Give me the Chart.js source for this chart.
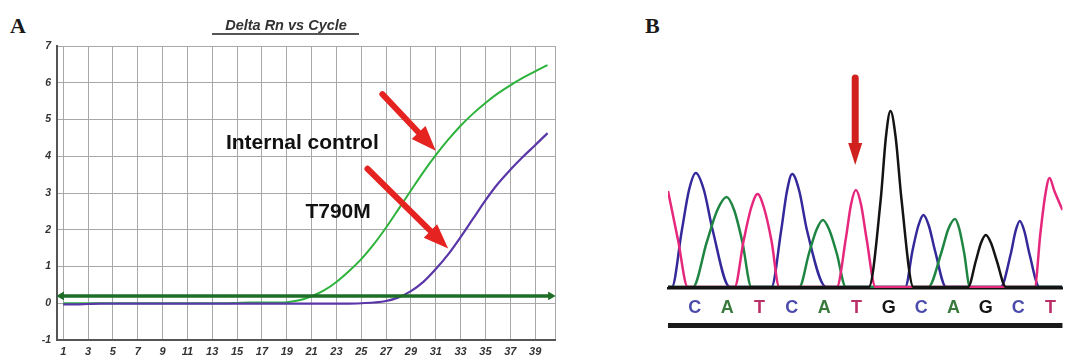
<!DOCTYPE html>
<html><head><meta charset="utf-8">
<script src="https://cdn.jsdelivr.net/npm/chart.js@4.4.0/dist/chart.umd.min.js"></script>
<style>
html,body{margin:0;padding:0;background:#fff;width:1065px;height:358px;overflow:hidden;}
.panel{position:absolute;top:0;}
.lbl{position:absolute;font-family:'Liberation Serif','Times New Roman',serif;font-weight:bold;font-size:22px;line-height:22px;color:#1a1a1a;}
</style></head><body>
<div class="lbl" style="left:10px;top:15px">A</div>
<div class="lbl" style="left:645px;top:15px">B</div>
<div class="panel" style="left:0;width:570px;height:358px"><canvas id="cA" width="570" height="358"></canvas></div>
<div class="panel" style="left:640px;width:425px;height:358px"><canvas id="cB" width="425" height="358"></canvas></div>
<script>
// ---------- Panel A data ----------
const cycles = [1,2,3,4,5,6,7,8,9,10,11,12,13,14,15,16,17,18,19,20,21,22,23,24,25,26,27,28,29,30,31,32,33,34,35,36,37,38,39,40];
const internalControl = [0,0,0,0,0,0,0,0,0,0,0,0,0,0,0.01,0.02,0.02,0.02,0.03,0.08,0.19,0.35,0.58,0.87,1.2,1.6,2.06,2.56,3.07,3.57,4.03,4.45,4.83,5.16,5.45,5.71,5.93,6.13,6.31,6.48];
const t790m = [-0.03,-0.03,-0.02,-0.01,-0.01,-0.01,-0.01,-0.01,-0.01,-0.01,-0.01,-0.01,-0.01,-0.01,-0.01,-0.01,-0.01,-0.01,-0.01,-0.01,-0.01,-0.01,-0.01,-0.01,0,0.02,0.06,0.16,0.33,0.58,0.93,1.33,1.8,2.3,2.8,3.25,3.63,3.98,4.3,4.63];
const threshold = 0.2;
const xTickCycles = [1,3,5,7,9,11,13,15,17,19,21,23,25,27,29,31,33,35,37,39];
const yTickValues = [-1,0,1,2,3,4,5,6,7];
const textLabelsA = [{text:'Internal control', x:14.1, y:4.36},{text:'T790M', x:20.5, y:2.47}];
const arrowsA = [{from:[26.7,5.69], to:[31.0,4.15]},{from:[25.5,3.66], to:[32.0,1.49]}];

// ---------- Panel B data ----------
const bases = ['C','A','T','C','A','T','G','C','A','G','C','T'];
const basePositions = [10,20,30,40,50,60,70,80,90,100,110,120];
const mutationPosition = 60;
const traceC = [[1.7,0],[2.9,0],[6.0,570],[8.2,970],[10.3,1140],[12.8,970],[15.5,570],[20.8,0],[33.7,0],[36.7,565],[38.5,960],[40.1,1130],[42.3,960],[44.7,565],[50.6,0],[75.1,0],[77.3,360],[79.1,610],[80.7,720],[82.4,610],[84.3,360],[87.7,0],[104.6,0],[107.7,330],[109.2,560],[110.5,660],[111.9,560],[113.5,330],[116.6,0],[123.7,0]];
const traceA = [[1.7,0],[9.4,0],[13.7,450],[16.9,765],[19.8,900],[22.2,765],[24.7,450],[27.5,0],[42.3,0],[45.3,335],[47.6,570],[49.6,670],[51.6,570],[53.9,335],[56.7,0],[82.2,0],[86.2,340],[88.4,580],[90.5,680],[91.8,580],[93.3,340],[95.1,0],[123.7,0]];
const traceT = [[1.7,960],[4.8,470],[7.8,0],[22.3,0],[25.1,465],[27.4,790],[29.4,930],[31.4,790],[33.7,465],[36.1,0],[53.9,0],[56.7,485],[58.3,825],[59.8,970],[61.4,825],[63.1,485],[65.9,0],[115.1,0],[116.9,545],[118.4,925],[119.7,1090],[121.2,960],[123.7,770]];
const traceG = [[1.7,0],[63.8,0],[67.5,880],[69.1,1500],[70.5,1760],[72.1,1500],[73.9,880],[77.6,0],[94.5,0],[96.9,260],[98.5,440],[100,520],[101.6,440],[103.4,260],[106.2,0],[123.7,0]];

const traceColors = {C:'#34299a', A:'#1f8543', T:'#e6287c', G:'#141414'};
const letterColors = {C:'#4b4bab', A:'#3b7a3d', T:'#bb2f68', G:'#141414'};

Chart.defaults.font.family = "'Liberation Sans', Arial, sans-serif";
Chart.defaults.animation = false;

function drawArrow(ctx, x1, y1, x2, y2, shaftW, headL, headW, color){
  const ang = Math.atan2(y2-y1, x2-x1);
  const bx = x2 - Math.cos(ang)*headL, by = y2 - Math.sin(ang)*headL;
  ctx.save();
  ctx.strokeStyle = color; ctx.fillStyle = color;
  ctx.lineWidth = shaftW; ctx.lineCap = 'round';
  ctx.beginPath(); ctx.moveTo(x1,y1); ctx.lineTo(bx,by); ctx.stroke();
  const px = -Math.sin(ang)*headW/2, py = Math.cos(ang)*headW/2;
  ctx.beginPath();
  ctx.moveTo(x2,y2); ctx.lineTo(bx+px,by+py); ctx.lineTo(bx-px,by-py); ctx.closePath(); ctx.fill();
  ctx.restore();
}

const annotA = {
  id:'annotA',
  afterDraw(chart){
    const ctx = chart.ctx, xs = chart.scales.x, ys = chart.scales.y;
    ctx.save();
    ctx.font = "italic bold 14.5px 'Liberation Sans', Arial, sans-serif";
    ctx.fillStyle = '#333'; ctx.textAlign = 'center'; ctx.textBaseline = 'alphabetic';
    ctx.fillText('Delta Rn vs Cycle', 286, 30);
    ctx.strokeStyle = '#555'; ctx.lineWidth = 2;
    ctx.beginPath(); ctx.moveTo(212, 34); ctx.lineTo(359, 34); ctx.stroke();
    ctx.font = "bold 21px 'Liberation Sans', Arial, sans-serif";
    ctx.fillStyle = '#111'; ctx.textAlign = 'left'; ctx.textBaseline = 'middle';
    textLabelsA.forEach(l => ctx.fillText(l.text, xs.getPixelForValue(l.x), ys.getPixelForValue(l.y)));
    ctx.restore();
    arrowsA.forEach(a => drawArrow(ctx, xs.getPixelForValue(a.from[0]), ys.getPixelForValue(a.from[1]),
      xs.getPixelForValue(a.to[0]), ys.getPixelForValue(a.to[1]), 6, 25, 19, '#e52421'));
  }
};

new Chart(document.getElementById('cA'), {
  type:'line',
  data:{datasets:[
    {label:'Threshold', data:[{x:0.85,y:threshold},{x:40.25,y:threshold}], borderColor:'#1e6e28', backgroundColor:'#1e6e28', borderWidth:3.5, pointStyle:'triangle', pointRadius:5, pointRotation:[-90,90], pointBackgroundColor:'#1e6e28', pointBorderWidth:0, clip:false},
    {label:'T790M', data:cycles.map((c,i)=>({x:c,y:t790m[i]})), borderColor:'#5a36a8', borderWidth:2.2, pointRadius:0, cubicInterpolationMode:'monotone'},
    {label:'Internal control', data:cycles.map((c,i)=>({x:c,y:internalControl[i]})), borderColor:'#2db23c', borderWidth:2, pointRadius:0, cubicInterpolationMode:'monotone'}
  ]},
  options:{
    responsive:false,
    layout:{padding:{left:0,top:46,right:15,bottom:0}},
    plugins:{legend:{display:false}, tooltip:{enabled:false}},
    scales:{
      x:{type:'linear', min:0.5, max:40.6,
        afterBuildTicks:s=>{ s.ticks = xTickCycles.concat([40.6]).map(v=>({value:v})); },
        afterFit:s=>{ s.height = 18; },
        ticks:{autoSkip:false, maxRotation:0, padding:5, color:'#333', font:{size:11, weight:'bold', style:'italic'},
          callback:v=> xTickCycles.includes(v) ? String(v) : ''},
        grid:{color:'#a8a8a8', lineWidth:1, drawTicks:false},
        border:{color:'#555', width:2}
      },
      y:{min:-1, max:7,
        afterBuildTicks:s=>{ s.ticks = yTickValues.map(v=>({value:v})); },
        afterFit:s=>{ s.width = 57; },
        ticks:{padding:6, color:'#333', font:{size:10.5, weight:'bold', style:'italic'}},
        grid:{color:'#a8a8a8', lineWidth:1, drawTicks:false},
        border:{color:'#555', width:2}
      }
    }
  },
  plugins:[annotA]
});

const annotB = {
  id:'annotB',
  afterDraw(chart){
    const ctx = chart.ctx, xs = chart.scales.x, ys = chart.scales.y, ca = chart.chartArea;
    ctx.save();
    ctx.fillStyle = '#1a1a1a';
    ctx.fillRect(ca.left, ca.bottom + 35, ca.right - ca.left, 5);
    ctx.restore();
    const ax = xs.getPixelForValue(mutationPosition - 0.4);
    drawArrow(ctx, ax, ys.getPixelForValue(2090), ax, ys.getPixelForValue(1220), 7, 22, 14, '#d0211f');
  }
};

function traceDS(base, pts){
  return {label:base, data:pts.map(p=>({x:p[0],y:p[1]})), borderColor:traceColors[base], borderWidth:2.5, pointRadius:0, cubicInterpolationMode:'monotone'};
}

new Chart(document.getElementById('cB'), {
  type:'line',
  data:{datasets:[traceDS('G',traceG), traceDS('T',traceT), traceDS('A',traceA), traceDS('C',traceC)]},
  options:{
    responsive:false,
    layout:{padding:{left:28,top:87,right:0,bottom:0}},
    plugins:{legend:{display:false}, tooltip:{enabled:false}},
    scales:{
      x:{type:'linear', min:1.7, max:123.7,
        afterBuildTicks:s=>{ s.ticks = basePositions.map(v=>({value:v})); },
        afterFit:s=>{ s.height = 70; },
        ticks:{autoSkip:false, maxRotation:0, padding:9, font:{size:18, weight:'bold'},
          color:c=> letterColors[bases[c.index]] || '#111',
          callback:(v,i)=> bases[i]},
        grid:{display:false, drawTicks:false},
        border:{color:'#111', width:2.5}
      },
      y:{display:false, min:-10, max:2000}
    }
  },
  plugins:[annotB]
});
</script>
</body></html>
